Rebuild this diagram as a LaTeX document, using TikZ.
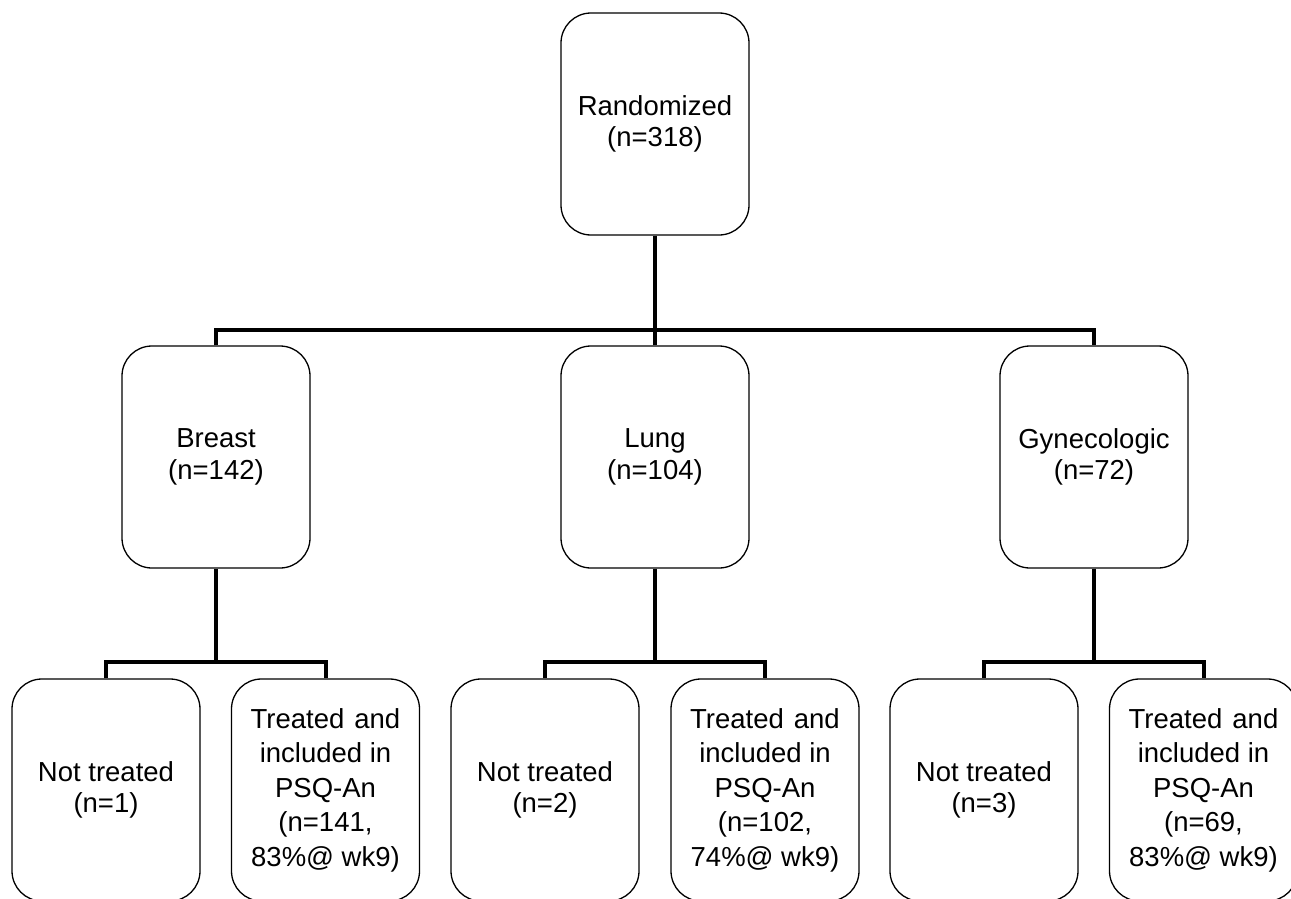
\documentclass[tikz,border=0pt]{standalone}
\usepackage{fontspec}
\setmainfont{Liberation Sans}
\newcommand{\tsp}{\hspace{10pt}}
\begin{document}
\begin{tikzpicture}[x=1pt,y=-1pt,
  box/.style={draw=black,line width=1.3pt,rounded corners=30pt,minimum width=188pt,minimum height=222pt,inner sep=0pt,align=center,font=\fontsize{27.5}{31.5}\selectfont},
  tallbox/.style={box,font=\fontsize{27.5}{34.5}\selectfont},
  conn/.style={draw=black,line width=4pt}]
\useasboundingbox (0,0) rectangle (1291,899);
\node[box] (R) at (655,124) {Randomized\\(n=318)};
\node[box] (B) at (216,457) {Breast\\(n=142)};
\node[box] (L) at (655,457) {Lung\\(n=104)};
\node[box] (G) at (1094,457) {Gynecologic\\(n=72)};
\node[box] (BN) at (106,790) {Not treated\\(n=1)};
\node[tallbox] (BT) at (325.5,790) {Treated\tsp and\\included in\\PSQ-An\\(n=141,\\83\%@ wk9)};
\node[box] (LN) at (545,790) {Not treated\\(n=2)};
\node[tallbox] (LT) at (765,790) {Treated\tsp and\\included in\\PSQ-An\\(n=102,\\74\%@ wk9)};
\node[box] (GN) at (984,790) {Not treated\\(n=3)};
\node[tallbox] (GT) at (1203.5,790) {Treated\tsp and\\included in\\PSQ-An\\(n=69,\\83\%@ wk9)};
\coordinate (bus1) at (0,330);
\coordinate (bus2) at (0,662);
\draw[conn] (R.south) -- (R.south |- bus1);
\draw[conn] (B.north) -- (B.north |- bus1) -- (G.north |- bus1) -- (G.north);
\draw[conn] (L.north) -- (L.north |- bus1);
\foreach \p/\a/\b in {B/BN/BT,L/LN/LT,G/GN/GT}{
  \draw[conn] (\p.south) -- (\p.south |- bus2);
  \draw[conn] (\a.north) -- (\a.north |- bus2) -- (\b.north |- bus2) -- (\b.north);
}
\end{tikzpicture}
\end{document}
